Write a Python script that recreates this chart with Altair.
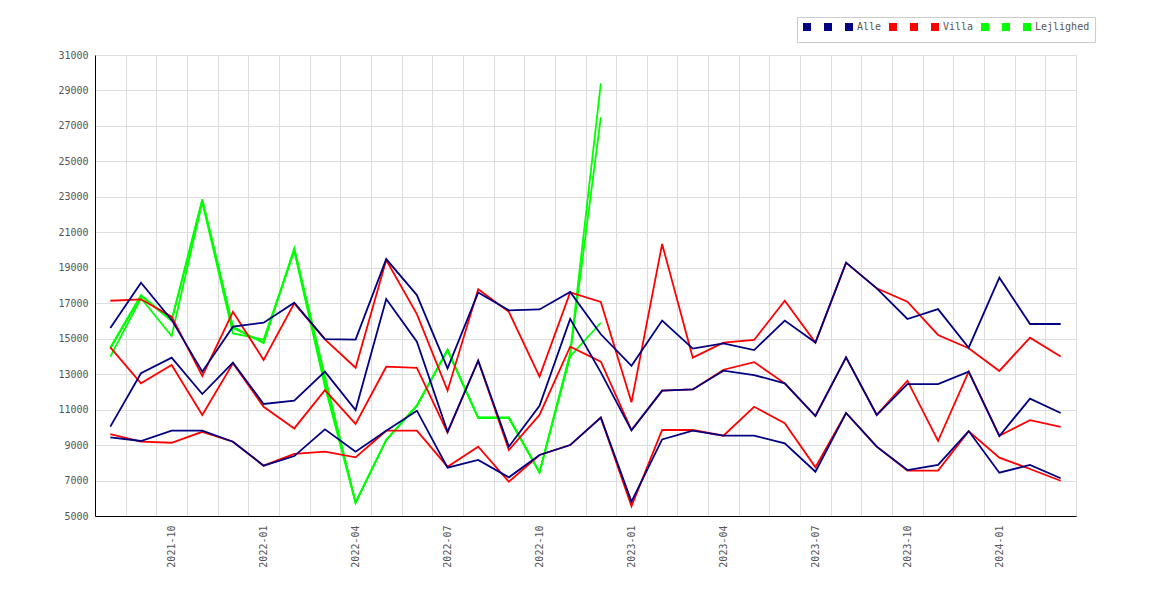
import altair as alt
import pandas as pd

months = [
    "2021-08", "2021-09", "2021-10", "2021-11", "2021-12", "2022-01", "2022-02", "2022-03",
    "2022-04", "2022-05", "2022-06", "2022-07", "2022-08", "2022-09", "2022-10", "2022-11",
    "2022-12", "2023-01", "2023-02", "2023-03", "2023-04", "2023-05", "2023-06", "2023-07",
    "2023-08", "2023-09", "2023-10", "2023-11", "2023-12", "2024-01", "2024-02", "2024-03",
]

alle_high = [15600, 18160, 16060, 13140, 15680, 15900, 17030, 14980, 14950, 19490, 17460, 13330,
             17600, 16600, 16650, 17640, 15250, 13470, 16020, 14440, 14740, 14360, 16020, 14780,
             19290, 17840, 16110, 16670, 14490, 18440, 15830, 15830]
alle_mid = [10040, 13050, 13930, 11880, 13650, 11320, 11500, 13140, 10980, 17240, 14830, 9750,
            13760, 8910, 11220, 16120, 13100, 9830, 12070, 12140, 13200, 12950, 12480, 10640,
            13950, 10700, 12440, 12440, 13140, 9510, 11620, 10810]
alle_low = [9440, 9230, 9810, 9810, 9190, 7840, 8380, 9890, 8630, 9810, 10940, 7730,
            8160, 7180, 8440, 9000, 10550, 5810, 9320, 9810, 9530, 9530, 9100, 7500,
            10810, 8910, 7590, 7880, 9790, 7440, 7880, 7130]

villa_high = [17140, 17220, 16240, 12900, 16520, 13800, 16990, 14960, 13360, 19440, 16390, 12070,
              17790, 16520, 12860, 17610, 17070, 11410, 20340, 13930, 14780, 14930, 17140, 14780,
              19290, 17840, 17090, 15210, 14460, 13180, 15060, 13990]
villa_mid = [14510, 12480, 13520, 10700, 13610, 11160, 9940, 12100, 10190, 13420, 13360, 9700,
             13760, 8720, 10700, 14550, 13700, 9850, 12070, 12140, 13250, 13680, 12480, 10640,
             13950, 10700, 12630, 9230, 13140, 9530, 10410, 10020]
villa_low = [9620, 9190, 9130, 9750, 9190, 7840, 8500, 8630, 8310, 9810, 9810, 7780,
             8910, 6930, 8440, 9000, 10550, 5560, 9850, 9850, 9530, 11160, 10230, 7750,
             10810, 8910, 7560, 7560, 9780, 8290, 7650, 6990]

lej_high = [14510, 17460, 16050, 22860, 15680, 14740, 20100, 12900, 5750, 9290, 11220, 14360,
            10540, 10540, 7460, 14200, 29400]
lej_mid = [14450, 17400, 16000, 22780, 15600, 14800, 20000, 12600, 5750, 9290, 11220, 14360,
           10540, 10540, 7460, 14100, 27490]
lej_low = [13990, 17280, 15150, 22700, 15300, 14950, 19950, 12300, 5750, 9290, 11220, 14360,
           10540, 10540, 7460, 14000, 15900]

groups = [
    ("Alle", [alle_low, alle_mid, alle_high], "#000080"),
    ("Villa", [villa_low, villa_mid, villa_high], "#ff0000"),
    ("Lejlighed", [lej_low, lej_mid, lej_high], "#00ff00"),
]

rows = []
domain = []
colors = []
for gname, series_list, col in groups:
    names = [gname + "#1", gname + "#2", gname]
    for sname, vals in zip(names, series_list):
        domain.append(sname)
        colors.append(col)
        for m, v in zip(months, vals):
            rows.append({"month": m, "value": v, "series": sname, "group": gname})
df = pd.DataFrame(rows)

FONT = "DejaVu Sans Mono"

x_enc = alt.X(
    "month:O",
    sort=months,
    bandPosition=0.5,
    scale=alt.Scale(type="band", paddingInner=0, paddingOuter=0),
    axis=alt.Axis(
        title=None, grid=True, ticks=False, tickBand="extent", labelAngle=270,
        labelExpr="indexof(['01','04','07','10'], substring(datum.value, 5, 7)) >= 0 ? datum.value : ''",
        labelPadding=9, labelOverlap=False,
    ),
)
y_enc = alt.Y(
    "value:Q",
    scale=alt.Scale(domain=[5000, 31000], nice=False, zero=False),
    axis=alt.Axis(title=None, values=list(range(5000, 31001, 2000)), format="d",
                  ticks=False, labelPadding=7),
)
color_enc = alt.Color(
    "series:N",
    scale=alt.Scale(domain=domain, range=colors),
    legend=alt.Legend(
        title=None, orient="none", legendX=702, legendY=-38, direction="horizontal",
        columns=9, symbolType="square", symbolSize=16, symbolStrokeWidth=4,
        labelFont=FONT, labelFontSize=10,
        labelColor="#555555", strokeColor="#cccccc", padding=5, columnPadding=1,
        labelOffset=3,
        labelExpr="indexof(datum.value, '#') >= 0 ? '' : datum.value",
    ),
)

base = alt.Chart(df).mark_line(strokeWidth=1.8).encode(x=x_enc, y=y_enc, color=color_enc)

layers = [base.transform_filter(alt.datum.group == g) for g in ["Lejlighed", "Villa", "Alle"]]

chart = alt.layer(*layers).properties(
    width=981, height=461,
    autosize=alt.AutoSizeParams(type="none"),
    padding={"left": 87, "top": 47, "right": 50, "bottom": 60},
).configure_view(stroke=None).configure_axis(
    labelFont=FONT, labelFontSize=10, labelColor="#555555",
    domainColor="#000000", domainWidth=1, gridColor="#dddddd", gridWidth=1,
)

chart.save("out.html", embed_options={"renderer": "svg", "actions": False})
